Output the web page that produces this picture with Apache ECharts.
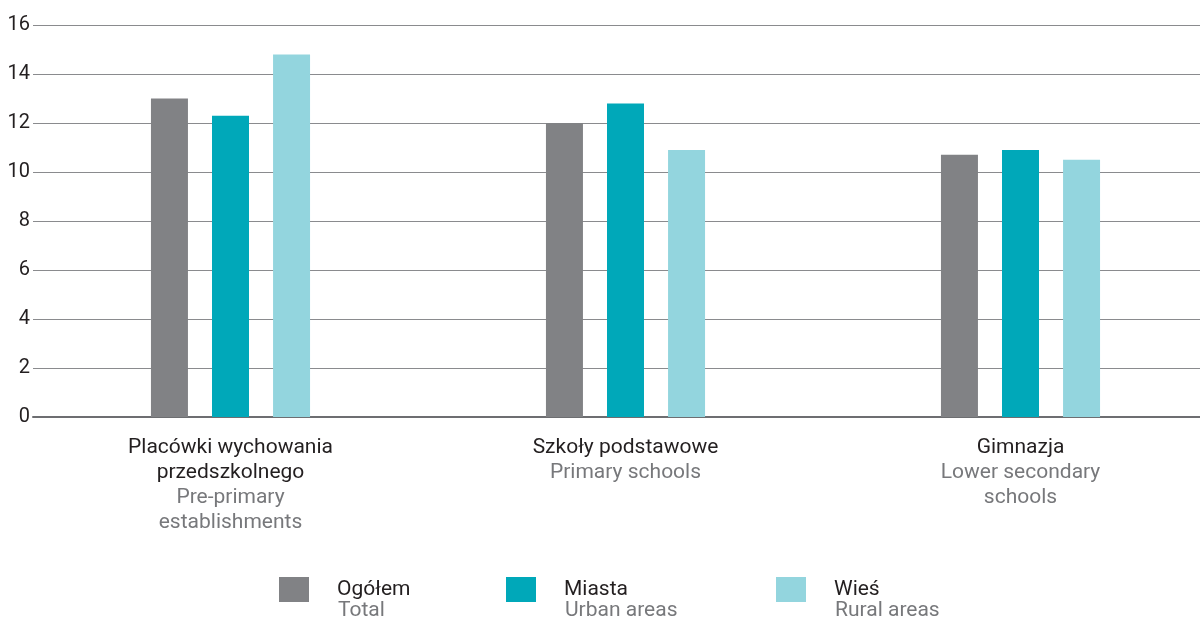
<!DOCTYPE html>
<html><head><meta charset="utf-8">
<script src="https://cdn.jsdelivr.net/npm/echarts@6/dist/echarts.min.js"></script>
<style>html,body{margin:0;padding:0;background:#fff}#c{width:1200px;height:619px}</style>
</head><body><div id="c"></div>
<script>
const categoriesPL = ['Placówki wychowania\nprzedszkolnego', 'Szkoły podstawowe', 'Gimnazja'];
const categoriesEN = ['Pre-primary\nestablishments', 'Primary schools', 'Lower secondary\nschools'];
const seriesNamesPL = ['Ogółem', 'Miasta', 'Wieś'];
const seriesNamesEN = ['Total', 'Urban areas', 'Rural areas'];
const ogolem = [13.0, 12.0, 10.7];
const miasta = [12.3, 12.8, 10.9];
const wies = [14.8, 10.9, 10.5];
const yTicks = [0, 2, 4, 6, 8, 10, 12, 14, 16];

const colors = ['#818285', '#00a8b9', '#93d5de'];
const FONT = 'Roboto';
const DARK = '#231f20', GREY = '#77787b';
const chart = echarts.init(document.getElementById('c'));
const catIdx = categoriesPL.map((_, i) => String(i));
const legendLefts = [279, 506, 776];

chart.setOption({
  animation: false,
  color: colors,
  textStyle: { fontFamily: FONT },
  grid: { left: 33, top: 25, width: 1185, height: 392, outerBoundsMode: 'none' },
  legend: seriesNamesPL.map((n, i) => ({
    data: [n], left: legendLefts[i], top: 577, padding: 0,
    icon: 'rect', itemWidth: 30, itemHeight: 25, itemGap: 0,
    selectedMode: false,
    textStyle: { fontFamily: FONT, fontSize: 21, color: DARK, lineHeight: 23, padding: [0, 0, 0, 23] }
  })),
  graphic: seriesNamesEN.map((t, i) => ({
    type: 'text', left: legendLefts[i] + 59, top: 600,
    style: { text: t, fontFamily: FONT, fontSize: 21, fill: GREY }
  })),
  xAxis: {
    type: 'category', data: catIdx,
    axisTick: { show: false },
    axisLine: { show: true, lineStyle: { color: '#6d6e71', width: 2 } },
    axisLabel: {
      margin: 18, interval: 0,
      formatter: v => {
        const i = +v;
        const pl = categoriesPL[i].split('\n').map(s => '{a|' + s + '}').join('\n');
        const en = categoriesEN[i].split('\n').map(s => '{b|' + s + '}').join('\n');
        return pl + '\n' + en;
      },
      rich: {
        a: { fontFamily: FONT, fontSize: 21, color: DARK, lineHeight: 25, align: 'center' },
        b: { fontFamily: FONT, fontSize: 21, color: GREY, lineHeight: 25, align: 'center' }
      }
    }
  },
  yAxis: {
    type: 'value', min: yTicks[0], max: yTicks[yTicks.length - 1], interval: 2,
    axisLine: { show: false }, axisTick: { show: false },
    axisLabel: { margin: 3, fontFamily: FONT, fontSize: 20, color: DARK },
    splitLine: { lineStyle: { color: '#8a8b8e', width: 1 } }
  },
  series: [ogolem, miasta, wies].map((d, i) => ({
    name: seriesNamesPL[i], type: 'bar', data: d,
    barWidth: 37, barGap: '65%'
  }))
});
</script></body></html>
